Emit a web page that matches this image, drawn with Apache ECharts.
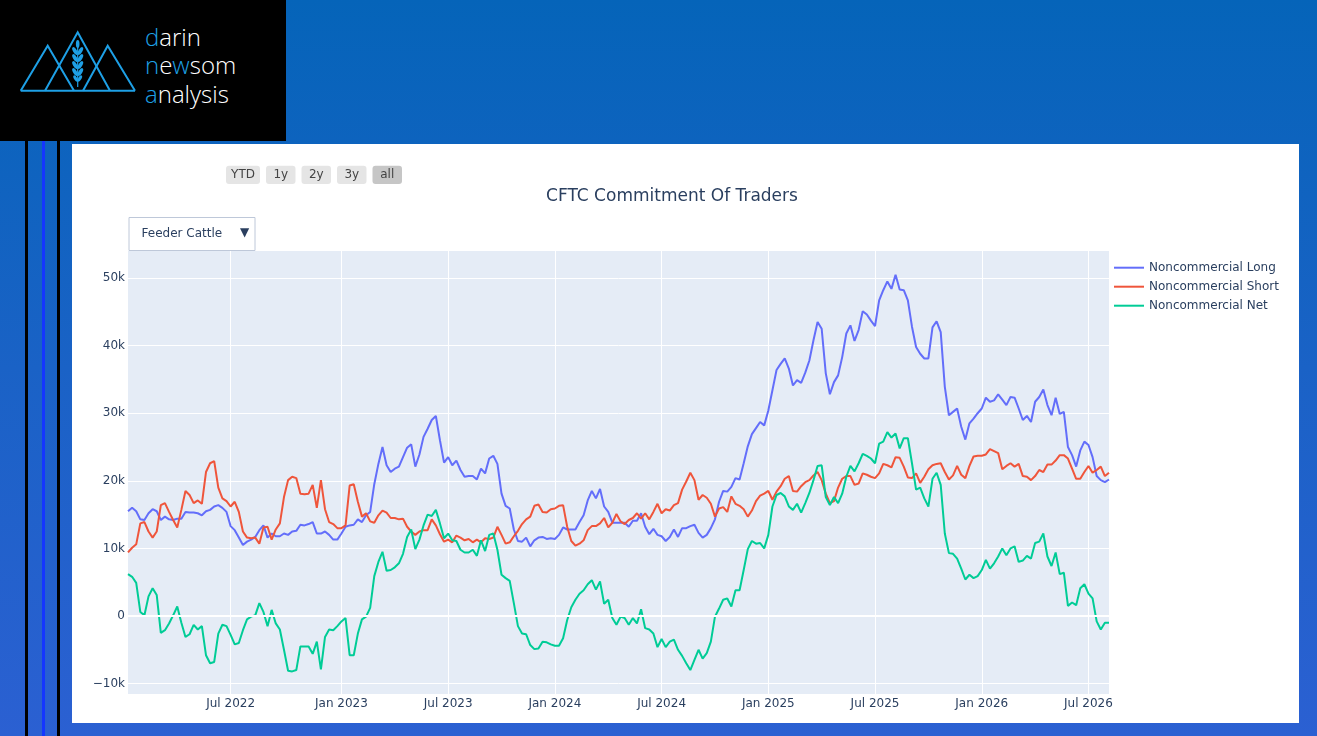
<!DOCTYPE html>
<html>
<head>
<meta charset="utf-8">
<title>CFTC Commitment Of Traders</title>
<script src="https://cdn.jsdelivr.net/npm/echarts@6.0.0/dist/echarts.min.js"></script>
<style>
  html, body { margin: 0; padding: 0; }
  body {
    width: 1317px; height: 736px; overflow: hidden; position: relative;
    background: linear-gradient(to bottom, #0564b9 0%, #1a62c6 50%, #2b60d2 100%);
  }
  #logo { position: absolute; left: 0; top: 0; width: 286px; height: 141px; background: #000; }
  .vline { position: absolute; top: 141px; width: 3px; height: 595px; }
  #panel { position: absolute; left: 72px; top: 144px; width: 1227px; height: 579px; background: #fff; }
  #main { width: 1227px; height: 579px; }
</style>
</head>
<body>
<div id="logo">
  <svg width="286" height="141" xmlns="http://www.w3.org/2000/svg">
    <g fill="none" stroke="#1ea0e6" stroke-width="2">
      <path d="M20.7,90.7 L47.7,45.7 L74,90.7" />
      <path d="M45,90.7 L77.7,32.3 L110,90.7" />
      <path d="M83,90.7 L107.7,45.7 L135,90.7" />
      <path d="M20.7,90.7 L135,90.7" />
      <path d="M77.7,42 L77.7,87" stroke-width="1.2" />
    </g>
    <g fill="#1ea0e6">
      <ellipse cx="77.7" cy="44" rx="1.8" ry="4" />
      <ellipse cx="75" cy="51" rx="1.9" ry="4.4" transform="rotate(-30 75 51)" />
      <ellipse cx="80.4" cy="51" rx="1.9" ry="4.4" transform="rotate(30 80.4 51)" />
      <ellipse cx="75" cy="58" rx="1.9" ry="4.4" transform="rotate(-30 75 58)" />
      <ellipse cx="80.4" cy="58" rx="1.9" ry="4.4" transform="rotate(30 80.4 58)" />
      <ellipse cx="75" cy="65" rx="1.9" ry="4.4" transform="rotate(-30 75 65)" />
      <ellipse cx="80.4" cy="65" rx="1.9" ry="4.4" transform="rotate(30 80.4 65)" />
      <ellipse cx="75" cy="72" rx="1.9" ry="4.4" transform="rotate(-30 75 72)" />
      <ellipse cx="80.4" cy="72" rx="1.9" ry="4.4" transform="rotate(30 80.4 72)" />
      <ellipse cx="75.6" cy="78.5" rx="1.6" ry="3.6" transform="rotate(-30 75.6 78.5)" />
      <ellipse cx="79.8" cy="78.5" rx="1.6" ry="3.6" transform="rotate(30 79.8 78.5)" />
    </g>
    <g font-family="'Open Sans', Lato, sans-serif" font-weight="300" font-size="24" fill="#fff">
      <text x="145" y="45.5"><tspan fill="#1ea0e6">d</tspan>arin</text>
      <text x="145" y="74"><tspan fill="#1ea0e6">n</tspan>e<tspan fill="#1ea0e6">w</tspan>som</text>
      <text x="145" y="103"><tspan fill="#1ea0e6">a</tspan>nalysis</text>
    </g>
  </svg>
</div>
<div class="vline" style="left:25px;background:#000;"></div>
<div class="vline" style="left:42px;background:#1436ff;"></div>
<div class="vline" style="left:57px;background:#000;"></div>
<div id="panel"><div id="main"></div></div>
<script>
// weekly report dates start here (one value per week)
var startDate = '2022-01-04';

// Noncommercial positions, thousands of contracts
var longPositions = [
  15.5, 16.0, 15.5, 14.3, 14.2, 15.2, 15.8, 15.5, 14.2, 14.7, 14.3, 14.2, 14.4, 14.4, 15.4, 15.3, 15.3, 15.2, 14.9, 15.5,
  15.7, 16.2, 16.4, 16.0, 15.4, 13.3, 12.7, 11.6, 10.5, 11.0, 11.3, 11.7, 12.7, 13.4, 11.6, 12.2, 11.8, 11.8, 12.2, 12.0,
  12.5, 12.6, 13.5, 13.4, 13.6, 13.9, 12.2, 12.2, 12.5, 12.0, 11.3, 11.3, 12.2, 13.2, 13.4, 13.5, 14.3, 13.9, 14.9, 15.4,
  19.5, 22.5, 25.0, 22.3, 21.3, 21.8, 22.1, 23.5, 24.9, 25.4, 22.1, 23.9, 26.5, 27.7, 29.0, 29.6, 26.0, 22.7, 23.5, 22.3,
  23.0, 21.6, 20.6, 20.7, 20.7, 20.2, 21.8, 21.1, 23.3, 23.7, 22.5, 18.1, 16.3, 15.9, 12.8, 11.1, 11.0, 11.6, 10.3, 11.2,
  11.6, 11.7, 11.4, 11.5, 11.4, 12.0, 13.1, 12.8, 12.8, 12.8, 13.9, 14.9, 17.1, 18.5, 17.4, 18.8, 16.2, 15.4, 13.8, 13.8,
  13.8, 13.8, 13.2, 14.1, 14.1, 15.2, 13.2, 12.1, 12.9, 12.0, 11.8, 11.1, 11.7, 12.8, 11.7, 13.0, 13.0, 13.3, 13.5, 12.3,
  11.6, 12.0, 13.0, 14.3, 16.9, 18.5, 18.4, 19.1, 20.4, 20.2, 22.6, 25.1, 26.9, 27.8, 28.7, 28.2, 30.4, 33.4, 36.4, 37.3,
  38.1, 36.6, 34.1, 34.9, 34.5, 36.0, 37.8, 40.8, 43.5, 42.5, 35.9, 32.8, 34.6, 35.6, 38.3, 41.8, 43.0, 40.7, 42.3, 45.1,
  44.6, 43.7, 42.9, 46.7, 48.2, 49.5, 48.4, 50.5, 48.3, 48.2, 46.7, 42.8, 39.8, 38.8, 38.1, 38.1, 42.7, 43.6, 42.0, 33.9,
  29.7, 30.2, 30.7, 28.0, 26.1, 28.5, 29.2, 30.0, 30.7, 32.3, 31.7, 31.9, 32.8, 32.0, 31.2, 32.4, 32.3, 30.7, 29.0, 29.6,
  28.7, 31.7, 32.4, 33.5, 31.2, 29.7, 32.3, 29.9, 30.2, 25.0, 23.8, 22.1, 24.5, 25.8, 25.3, 23.5, 20.7, 20.1, 19.8, 20.2
];
var shortPositions = [
  9.4, 10.1, 10.6, 13.7, 13.9, 12.5, 11.6, 12.5, 16.4, 16.7, 15.4, 14.2, 13.1, 15.7, 18.5, 17.9, 16.7, 17.1, 16.6, 21.3,
  22.6, 22.9, 19.0, 17.4, 17.0, 16.2, 16.9, 15.4, 12.5, 11.6, 11.5, 11.6, 10.7, 13.1, 13.2, 11.3, 12.8, 13.7, 17.6, 20.1,
  20.6, 20.4, 18.1, 18.0, 18.1, 19.4, 16.0, 20.1, 15.8, 13.9, 13.6, 13.0, 13.0, 13.4, 19.3, 19.5, 16.9, 14.7, 15.2, 14.0,
  13.8, 14.9, 15.6, 15.3, 14.5, 14.5, 14.3, 14.4, 13.2, 12.5, 12.0, 12.5, 12.7, 12.7, 14.3, 13.4, 12.1, 11.0, 11.3, 10.9,
  11.9, 11.6, 11.2, 11.4, 10.9, 11.3, 10.9, 11.5, 11.4, 11.6, 13.2, 12.0, 10.7, 10.9, 11.8, 12.6, 13.6, 14.3, 14.7, 16.3,
  16.5, 15.4, 15.3, 15.8, 15.9, 16.3, 16.4, 13.2, 11.1, 10.4, 10.7, 11.2, 12.7, 13.3, 13.3, 13.7, 14.5, 13.1, 13.8, 15.1,
  14.0, 13.6, 14.2, 14.5, 15.2, 14.4, 15.2, 14.3, 15.4, 16.6, 15.2, 15.8, 15.6, 16.4, 16.7, 18.7, 19.9, 21.2, 20.1, 17.2,
  17.9, 17.5, 16.6, 14.7, 15.9, 16.1, 15.4, 17.7, 16.6, 16.3, 15.8, 14.7, 15.6, 17.0, 17.8, 18.1, 18.5, 17.2, 18.4, 19.2,
  20.3, 20.7, 18.5, 18.4, 19.2, 19.8, 20.1, 20.8, 21.3, 20.1, 18.1, 16.7, 17.0, 19.0, 20.3, 20.7, 20.7, 19.4, 19.6, 21.1,
  20.9, 20.6, 20.4, 21.1, 22.5, 22.3, 22.0, 23.5, 23.4, 22.1, 20.5, 20.4, 21.1, 19.7, 20.6, 21.7, 22.3, 22.5, 22.6, 21.3,
  20.2, 20.8, 22.2, 20.9, 20.4, 22.2, 23.6, 23.7, 23.7, 23.9, 24.7, 24.4, 24.1, 21.7, 22.2, 22.6, 22.1, 22.5, 20.7, 20.6,
  20.1, 20.7, 21.6, 21.3, 22.4, 22.4, 23.0, 23.8, 23.8, 23.3, 21.8, 20.3, 20.3, 21.3, 22.2, 21.2, 21.6, 22.1, 20.7, 21.2
];
var netPositions = [
  6.2, 5.8, 4.9, 0.6, 0.1, 2.9, 4.1, 3.1, -2.5, -2.1, -1.1, 0.1, 1.4, -1.0, -3.1, -2.7, -1.3, -2.0, -1.5, -5.8,
  -7.0, -6.8, -2.6, -1.3, -1.5, -2.8, -4.2, -4.0, -2.1, -0.5, -0.1, 0.1, 1.9, 0.6, -1.5, 0.9, -1.1, -2.0, -5.0, -8.1,
  -8.2, -8.0, -4.5, -4.5, -4.5, -5.6, -3.8, -7.9, -3.1, -2.0, -2.1, -1.5, -0.8, -0.3, -5.8, -5.8, -2.6, -0.5, -0.1, 1.2,
  5.9, 8.0, 9.5, 6.7, 6.8, 7.2, 7.8, 9.2, 11.7, 12.8, 9.9, 11.3, 13.4, 15.0, 14.8, 15.7, 13.7, 11.5, 12.2, 11.2,
  11.1, 9.8, 9.4, 9.4, 9.8, 8.9, 11.2, 9.6, 12.0, 12.2, 9.8, 6.1, 5.6, 5.2, 1.9, -1.5, -2.6, -2.7, -4.3, -4.9,
  -4.8, -3.8, -3.9, -4.2, -4.4, -4.4, -3.3, -0.6, 1.3, 2.4, 3.3, 3.8, 4.7, 5.3, 3.9, 5.1, 1.8, 2.4, -0.3, -1.3,
  -0.1, -0.3, -1.3, -0.3, -1.1, 1.0, -1.8, -2.0, -2.6, -4.6, -3.4, -4.6, -3.8, -3.5, -5.0, -5.9, -7.0, -8.0, -6.5, -5.0,
  -6.3, -5.5, -3.8, -0.1, 1.1, 2.4, 2.6, 1.4, 3.8, 3.8, 6.8, 9.9, 11.1, 10.7, 10.8, 10.0, 12.0, 16.2, 17.9, 18.2,
  17.7, 16.2, 15.7, 16.6, 15.3, 16.7, 18.2, 20.1, 22.2, 22.3, 17.6, 16.4, 17.6, 16.7, 18.1, 20.6, 22.2, 21.4, 22.6, 24.0,
  23.7, 23.3, 22.6, 25.5, 25.8, 27.2, 26.4, 27.0, 24.8, 26.3, 26.3, 22.6, 18.7, 19.0, 17.4, 16.2, 20.3, 21.2, 19.4, 12.2,
  9.3, 9.2, 8.5, 7.0, 5.4, 6.1, 5.6, 5.9, 6.8, 8.3, 7.0, 7.8, 8.8, 10.0, 9.0, 10.0, 10.3, 8.0, 8.2, 8.9,
  8.5, 10.8, 11.0, 12.2, 8.8, 7.4, 9.4, 6.2, 6.4, 1.5, 2.0, 1.6, 4.1, 4.7, 3.3, 2.6, -0.8, -2.0, -1.0, -1.0
];

var seriesNames = ['Noncommercial Long', 'Noncommercial Short', 'Noncommercial Net'];
var seriesColors = ['#636efa', '#ef553b', '#00cc96'];

var xTickLabels = ['Jul 2022', 'Jan 2023', 'Jul 2023', 'Jan 2024', 'Jul 2024', 'Jan 2025', 'Jul 2025', 'Jan 2026', 'Jul 2026'];
var xTickDates = ['2022-07-01', '2023-01-01', '2023-07-01', '2024-01-01', '2024-07-01', '2025-01-01', '2025-07-01', '2026-01-01', '2026-07-01'];

var rangeButtons = ['YTD', '1y', '2y', '3y', 'all'];
var menuLabel = 'Feeder Cattle';

var DAY = 86400000;
var t0 = Date.parse(startDate + 'T00:00:00Z');
var weeks = [];
for (var i = 0; i < longPositions.length; i++) {
    weeks.push(new Date(t0 + i * 7 * DAY).toISOString().slice(0, 10));
}
// tick label sits on the week nearest to the 1st of the month
var tickAt = {};
xTickDates.forEach(function (d, k) {
    var idx = Math.round((Date.parse(d + 'T00:00:00Z') - t0) / (7 * DAY));
    tickAt[idx] = xTickLabels[k];
});
function isTick(index) { return tickAt[index] !== undefined; }

var FONT = 'DejaVu Sans, Verdana, sans-serif';
var INK = '#2a3f5f';

// range selector buttons + dropdown, drawn on the chart canvas
var btnBox = [[154, 34], [194, 29.5], [229.5, 29.5], [265, 29.5], [300.5, 29.5]];
var graphics = [];
rangeButtons.forEach(function (label, k) {
    graphics.push({
        type: 'rect',
        shape: { x: btnBox[k][0], y: 21.7, width: btnBox[k][1], height: 18.3, r: 3 },
        style: { fill: label === 'all' ? '#c6c6c6' : '#e5e5e5' }
    });
    graphics.push({
        type: 'text',
        x: btnBox[k][0] + btnBox[k][1] / 2, y: 31,
        style: { text: label, font: '12px ' + FONT, fill: '#444', align: 'center', verticalAlign: 'middle' }
    });
});
graphics.push({
    type: 'rect',
    shape: { x: 57, y: 73.5, width: 126, height: 33 },
    style: { fill: '#fff', stroke: '#bec8d9', lineWidth: 1 }
});
graphics.push({
    type: 'text', x: 69.5, y: 89.5,
    style: { text: menuLabel, font: '12px ' + FONT, fill: INK, align: 'left', verticalAlign: 'middle' }
});
graphics.push({
    type: 'text', x: 172.5, y: 89,
    style: { text: '▼', font: '12px ' + FONT, fill: INK, align: 'center', verticalAlign: 'middle' }
});

var chart = echarts.init(document.getElementById('main'));
var option = {
    animation: false,
    title: {
        text: 'CFTC Commitment Of Traders',
        left: 600, top: 44, textAlign: 'center', padding: 0,
        textStyle: { fontFamily: FONT, fontSize: 17, fontWeight: 'normal', color: INK }
    },
    legend: {
        orient: 'vertical',
        left: 1042, top: 116.7, padding: 0,
        icon: 'rect', itemWidth: 30, itemHeight: 2, itemGap: 5,
        textStyle: { fontFamily: FONT, fontSize: 12, color: INK, lineHeight: 14 },
        data: seriesNames
    },
    grid: {
        left: 56, top: 107, right: 190, bottom: 29,
        show: true, backgroundColor: '#e5ecf6', borderWidth: 0
    },
    graphic: graphics,
    xAxis: {
        type: 'category',
        data: weeks,
        boundaryGap: false,
        axisLine: { show: false },
        axisTick: { show: false },
        axisLabel: {
            interval: function (index) { return isTick(index); },
            formatter: function (v, index) { return tickAt[index] || ''; },
            fontFamily: FONT, fontSize: 12, color: INK, margin: 4
        },
        splitLine: {
            show: true,
            interval: function (index) { return isTick(index); },
            lineStyle: { color: '#fff', width: 1 }
        }
    },
    yAxis: {
        type: 'value',
        min: -11.54, max: 54.0,
        minInterval: 10, maxInterval: 10,
        axisLine: { show: false },
        axisTick: { show: false },
        axisLabel: {
            fontFamily: FONT, fontSize: 12, color: INK, margin: 3,
            formatter: function (v) {
                if (Math.abs(v - Math.round(v / 10) * 10) > 1e-6) return '';
                if (v === 0) return '0';
                return (v < 0 ? '\u2212' + Math.abs(v) : v) + 'k';
            }
        },
        splitLine: { lineStyle: { color: '#fff', width: 1 }, showMinLine: false, showMaxLine: false }
    },
    series: [
        {
            name: seriesNames[0], type: 'line', data: longPositions,
            showSymbol: false, symbol: 'none', color: seriesColors[0],
            lineStyle: { width: 2 },
            markLine: {
                silent: true, symbol: 'none', label: { show: false },
                lineStyle: { color: '#fff', width: 2, type: 'solid' },
                data: [{ yAxis: 0 }]
            }
        },
        {
            name: seriesNames[1], type: 'line', data: shortPositions,
            showSymbol: false, symbol: 'none', color: seriesColors[1],
            lineStyle: { width: 2 }
        },
        {
            name: seriesNames[2], type: 'line', data: netPositions,
            showSymbol: false, symbol: 'none', color: seriesColors[2],
            lineStyle: { width: 2 }
        }
    ]
};
chart.setOption(option);
</script>
</body>
</html>
